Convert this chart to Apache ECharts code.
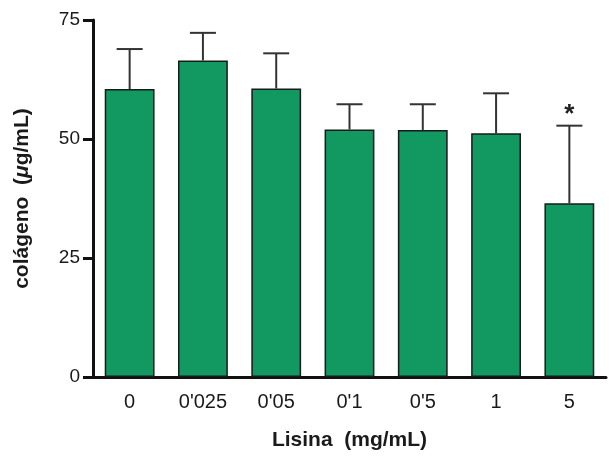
<!DOCTYPE html>
<html>
<head>
<meta charset="utf-8">
<script src="https://cdn.jsdelivr.net/npm/echarts@6/dist/echarts.min.js"></script>
<style>
  html, body { margin: 0; padding: 0; background: #fff; }
  #chart { width: 610px; height: 458px; }
</style>
</head>
<body>
<div id="chart"></div>
<script>
// Lysine concentration groups (mg/mL)
const categories = ["0", "0'025", "0'05", "0'1", "0'5", "1", "5"];
// Mean collagen (µg/mL)
const means = [60.5, 66.5, 60.6, 52.0, 51.9, 51.2, 36.5];
// Upper end of error bar (mean + SD)
const upper = [68.9, 72.3, 68.0, 57.3, 57.3, 59.6, 52.8];
// Significance marks above the error bars
const marks = ["", "", "", "", "", "", "*"];
const yTicks = [0, 25, 50, 75];

const FONT = "'Liberation Sans', Arial, Helvetica, sans-serif";
const chart = echarts.init(document.getElementById('chart'));

chart.setOption({
  animation: false,
  backgroundColor: '#ffffff',
  grid: { left: 93, right: 4, top: 20, bottom: 81 },
  xAxis: {
    type: 'category',
    data: categories,
    name: 'Lisina  (mg/mL)',
    nameLocation: 'middle',
    nameGap: 53,
    nameTextStyle: { fontFamily: FONT, fontSize: 21, fontWeight: 'bold', color: '#1a1a1a' },
    axisLine: { lineStyle: { color: '#111', width: 3 } },
    axisTick: { alignWithLabel: true, length: 9, lineStyle: { color: '#111', width: 3 } },
    axisLabel: { fontFamily: FONT, fontSize: 20, color: '#1a1a1a', margin: 15 }
  },
  yAxis: {
    type: 'value',
    min: 0, max: 75, interval: 25,
    name: 'colágeno  ({it|μ}g/mL)',
    nameLocation: 'middle',
    nameGap: 60,
    nameRotate: 90,
    nameTextStyle: {
      fontFamily: FONT, fontSize: 21, fontWeight: 'bold', color: '#1a1a1a',
      rich: { it: { fontFamily: FONT, fontSize: 21, fontWeight: 'bold', fontStyle: 'italic', color: '#1a1a1a' } }
    },
    axisLine: { show: true, lineStyle: { color: '#111', width: 3 } },
    axisTick: { show: true, length: 10, lineStyle: { color: '#111', width: 3 } },
    axisLabel: {
      fontFamily: FONT, fontSize: 19, color: '#1a1a1a', margin: 13,
      formatter: v => (yTicks.includes(v) ? String(v) : '')
    },
    splitLine: { show: false }
  },
  series: [
    {
      type: 'bar',
      data: means,
      barWidth: '68%',
      itemStyle: { color: '#119961', borderColor: '#1a1a1a', borderWidth: 1.5 },
      z: 2
    },
    {
      type: 'custom',
      data: categories.map((c, i) => [i, means[i], upper[i]]),
      z: 3,
      renderItem: function (params, api) {
        const i = api.value(0);
        const base = api.coord([i, api.value(1)]);
        const top = api.coord([i, api.value(2)]);
        const half = 13;
        const style = { stroke: '#333', lineWidth: 2 };
        const children = [
          { type: 'line', shape: { x1: base[0], y1: base[1], x2: top[0], y2: top[1] }, style },
          { type: 'line', shape: { x1: top[0] - half, y1: top[1], x2: top[0] + half, y2: top[1] }, style }
        ];
        const m = marks[params.dataIndex];
        if (m) {
          children.push({
            type: 'text',
            style: {
              text: m, x: top[0], y: top[1] + 2,
              align: 'center', verticalAlign: 'bottom',
              font: 'bold 26px ' + FONT, fill: '#222'
            }
          });
        }
        return { type: 'group', children };
      }
    }
  ]
});
</script>
</body>
</html>
